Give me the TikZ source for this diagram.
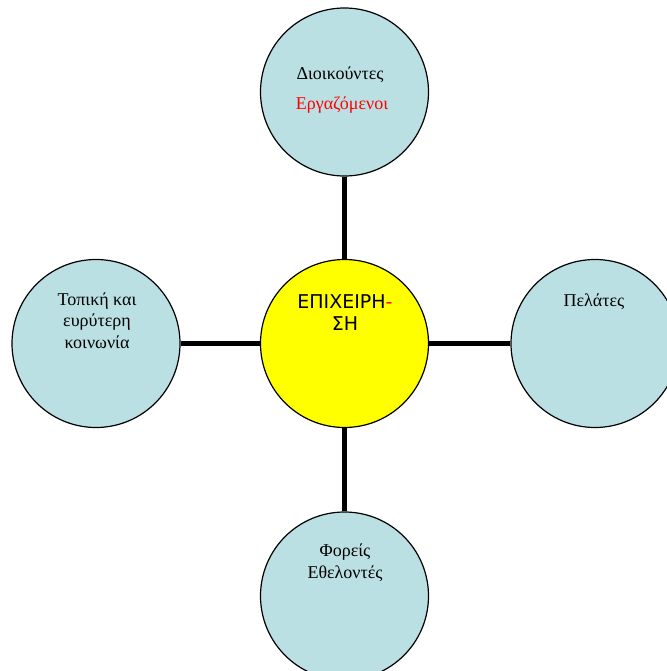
\documentclass[tikz,border=0pt]{standalone}
\usepackage{fontspec}
\setmainfont{Liberation Serif}
\newfontfamily\sansgr{DejaVu Sans}
\definecolor{circblue}{RGB}{187,224,227}
\definecolor{circyellow}{RGB}{255,255,0}
\definecolor{txtred}{RGB}{255,0,0}
\begin{document}
\begin{tikzpicture}[x=1bp,y=-1bp,
  bubble/.style={circle,draw=black,line width=1.2bp,fill=circblue,minimum size=168bp,inner sep=0pt},
  hub/.style={bubble,fill=circyellow},
  conn/.style={draw=black,line width=5.5bp},
  lbl/.style={anchor=base,inner sep=0pt,font=\fontsize{18bp}{21.5bp}\selectfont,align=center},
  hublbl/.style={anchor=base,inner sep=0pt,font=\sansgr\fontsize{19bp}{22bp}\selectfont,align=center}]
\clip (0,0) rectangle (667,671);
\useasboundingbox (0,0) rectangle (667,671);
\fill[white] (0,0) rectangle (667,671);
\node[bubble] (top) at (344.5,92) {};
\node[hub] (hub) at (344.5,343.5) {};
\node[bubble] (left) at (96,343.5) {};
\node[bubble] (right) at (595,343.5) {};
\node[bubble] (bottom) at (344.5,596) {};
\draw[conn] (top) -- (hub);
\draw[conn] (left) -- (hub);
\draw[conn] (hub) -- (right);
\draw[conn] (hub) -- (bottom);
\node[lbl] (t1) at (340,80) {Διοικούντες};
\node[lbl,text=txtred] (t2) at (342,110) {Εργαζόμενοι};
\node[hublbl] (h1) at (345,330) {ΕΠΙΧΕΙΡΗ\textcolor{txtred}{-}\\ΣΗ};
\node[lbl] (l1) at (97,348) {Τοπική και\\ευρύτερη\\κοινωνία};
\node[lbl] (r1) at (594,306) {Πελάτες};
\node[lbl] (b1) at (345,578) {Φορείς\\Εθελοντές};
\end{tikzpicture}
\end{document}
